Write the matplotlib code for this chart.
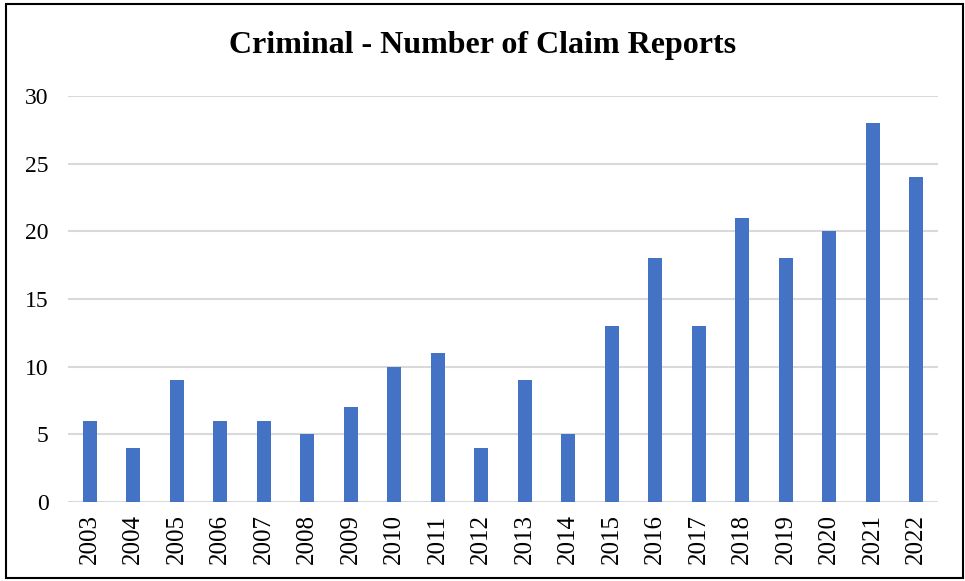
import numpy as np
import matplotlib.pyplot as plt
from matplotlib.patches import Rectangle

years = ['2003', '2004', '2005', '2006', '2007', '2008', '2009', '2010', '2011', '2012',
         '2013', '2014', '2015', '2016', '2017', '2018', '2019', '2020', '2021', '2022']
claims = [6, 4, 9, 6, 6, 5, 7, 10, 11, 4, 9, 5, 13, 18, 13, 21, 18, 20, 28, 24]

plt.rcParams['font.family'] = ['Liberation Serif', 'DejaVu Serif']

fig = plt.figure(figsize=(9.65, 5.81), dpi=100)
ax = fig.add_axes([68/965, 1 - 502/581, 870/965, 406/581])

x = np.arange(len(years))
ax.bar(x, claims, width=0.33, color='#4472C4', zorder=3)

ax.set_xlim(-0.5, len(years) - 0.5)
ax.set_ylim(0, 30)
ax.set_yticks(np.arange(0, 31, 5))
ax.set_xticks(x)
ax.set_xticklabels(years, rotation=90, fontsize=18)
ax.tick_params(axis='y', labelsize=17, length=0, pad=14)
ax.tick_params(axis='x', length=0, pad=9)
ax.grid(axis='y', color='#d9d9d9', linewidth=1.5, zorder=0)
for s in ax.spines.values():
    s.set_visible(False)

fig.text(0.5, 1 - 45/581, 'Criminal - Number of Claim Reports', ha='center', va='center',
         fontsize=23, fontweight='bold')

# outer frame
fig.patches.append(Rectangle((6/965, 3/581), 957/965, 574/581, transform=fig.transFigure,
                             fill=False, edgecolor='black', linewidth=1.5))

fig.savefig('out.png', dpi=100)
